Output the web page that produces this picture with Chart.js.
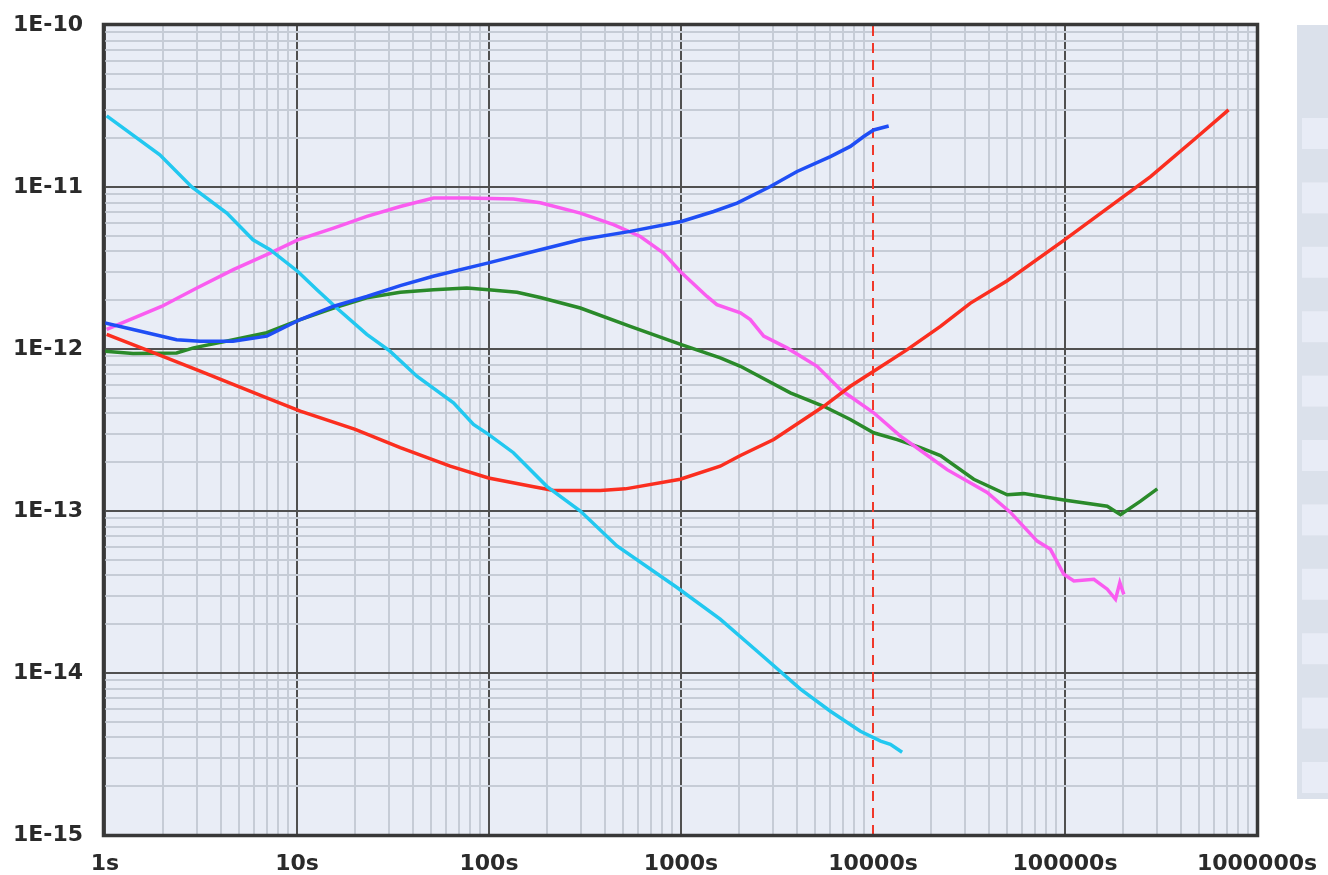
<!DOCTYPE html>
<html>
<head>
<meta charset="utf-8">
<title>Allan deviation</title>
<script src="https://cdn.jsdelivr.net/npm/chart.js@4.4.1/dist/chart.umd.min.js"></script>
<style>
  body { margin: 0; background: #ffffff; }
</style>
</head>
<body>
<canvas id="grafica" width="1328" height="875"></canvas>
<script>
// tick labels
var xTickLabels = ['1s', '10s', '100s', '1000s', '10000s', '100000s', '1000000s'];
var yTickLabels = ['1E-15', '1E-14', '1E-13', '1E-12', '1E-11', '1E-10'];
var xMin = 1, xMax = 1e6;
var yMin = 1e-15, yMax = 1e-10;
var markerTime = 10000;

// cyan series
var cyanTimes = [1.02, 1.93, 2.83, 4.31, 5.9, 7.24, 10.1, 12.7, 16.1, 23.1, 30.5, 42.1, 65.3, 83, 99.4, 134, 200, 299, 464, 953, 1600, 2590, 4190, 6000, 8600, 10960, 12320, 14180];
var cyanValues = [2.75e-11, 1.58e-11, 1.0e-11, 6.9e-12, 4.72e-12, 4.1e-12, 3.01e-12, 2.32e-12, 1.79e-12, 1.23e-12, 9.7e-13, 6.79e-13, 4.66e-13, 3.42e-13, 2.97e-13, 2.29e-13, 1.42e-13, 1.0e-13, 6.08e-14, 3.37e-14, 2.15e-14, 1.31e-14, 7.95e-15, 5.81e-15, 4.37e-15, 3.8e-15, 3.63e-15, 3.24e-15];

// red series
var redTimes = [1.02, 1.72, 3.13, 6.96, 10.4, 20.1, 34.5, 62.8, 99.4, 171, 217, 380, 513, 991, 1600, 2040, 3040, 5540, 7620, 10080, 15070, 22450, 32180, 50000, 99400, 279000, 467600, 711000];
var redValues = [1.23e-12, 9.68e-13, 7.29e-13, 4.99e-13, 4.13e-13, 3.19e-13, 2.46e-13, 1.89e-13, 1.60e-13, 1.41e-13, 1.34e-13, 1.34e-13, 1.37e-13, 1.57e-13, 1.89e-13, 2.20e-13, 2.76e-13, 4.43e-13, 5.89e-13, 7.29e-13, 9.91e-13, 1.38e-12, 1.92e-12, 2.64e-12, 4.72e-12, 1.16e-11, 1.95e-11, 2.99e-11];

// blue series
var blueTimes = [1, 1.40, 2.36, 3.13, 4.64, 6.96, 10.4, 15.4, 23.1, 34.5, 51.2, 99.4, 185, 299, 544, 1004, 1479, 1959, 2920, 4023, 5998, 7620, 8944, 10080, 12070];
var blueValues = [1.45e-12, 1.32e-12, 1.14e-12, 1.115e-12, 1.115e-12, 1.20e-12, 1.52e-12, 1.83e-12, 2.11e-12, 2.46e-12, 2.81e-12, 3.40e-12, 4.10e-12, 4.72e-12, 5.32e-12, 6.13e-12, 7.06e-12, 7.96e-12, 1.007e-11, 1.246e-11, 1.54e-11, 1.78e-11, 2.05e-11, 2.25e-11, 2.38e-11];

// green series
var greenTimes = [1, 1.40, 2.36, 2.89, 4.66, 6.96, 10.4, 15.5, 23.1, 34.5, 51.4, 76.7, 99.4, 140, 185, 299, 544, 1004, 1603, 2040, 3712, 5535, 7620, 10080, 13360, 17660, 22450, 33480, 50000, 60970, 98600, 166000, 194600, 247400, 302400];
var greenValues = [9.68e-13, 9.37e-13, 9.46e-13, 1.016e-12, 1.14e-12, 1.26e-12, 1.52e-12, 1.79e-12, 2.07e-12, 2.24e-12, 2.32e-12, 2.38e-12, 2.32e-12, 2.24e-12, 2.08e-12, 1.79e-12, 1.38e-12, 1.064e-12, 8.81e-13, 7.82e-13, 5.36e-13, 4.43e-13, 3.67e-13, 3.04e-13, 2.76e-13, 2.46e-13, 2.20e-13, 1.57e-13, 1.26e-13, 1.28e-13, 1.17e-13, 1.07e-13, 9.5e-14, 1.15e-13, 1.37e-13];

// magenta series
var magentaTimes = [1.02, 1.97, 3.01, 4.66, 7.24, 10.1, 15.5, 23.1, 34.5, 51.4, 76.7, 134, 185, 299, 445, 614, 811, 991, 1366, 1538, 2040, 2296, 2695, 3566, 5113, 6760, 10080, 13900, 18380, 24320, 39320, 52000, 71630, 84000, 98600, 111200, 141300, 166000, 183300, 193000, 202500];
var magentaValues = [1.32e-12, 1.83e-12, 2.38e-12, 3.09e-12, 3.91e-12, 4.72e-12, 5.58e-12, 6.58e-12, 7.58e-12, 8.54e-12, 8.54e-12, 8.42e-12, 8.0e-12, 6.90e-12, 5.85e-12, 4.95e-12, 3.91e-12, 3.01e-12, 2.11e-12, 1.88e-12, 1.67e-12, 1.52e-12, 1.20e-12, 1.016e-12, 7.82e-13, 5.62e-13, 4.04e-13, 2.90e-13, 2.29e-13, 1.80e-13, 1.30e-13, 9.8e-14, 6.52e-14, 5.80e-14, 4.07e-14, 3.70e-14, 3.79e-14, 3.29e-14, 2.85e-14, 3.61e-14, 3.06e-14];

function isPow10(v) {
  var l = Math.log10(v);
  return Math.abs(l - Math.round(l)) < 1e-6;
}
// keep only 1..9 x 10^n ticks (chart.js also makes 1.5 x 10^n)
function isWholeStep(v) {
  var e = Math.floor(Math.log10(v) + 1e-9);
  var m = v / Math.pow(10, e);
  return Math.abs(m - Math.round(m)) < 1e-6;
}
function pts(ts, vs) {
  return ts.map(function (t, i) { return { x: t, y: vs[i] }; });
}
function serie(ts, vs, color) {
  return { data: pts(ts, vs), borderColor: color, borderWidth: 3.5, pointRadius: 0, tension: 0, fill: false };
}

var fondo = {
  id: 'fondo',
  beforeDraw: function (chart) {
    var c = chart.ctx, a = chart.chartArea;
    c.save();
    c.fillStyle = '#e9edf6';
    c.fillRect(a.left, a.top, a.right - a.left, a.bottom - a.top);
    // empty legend strip on the right
    c.fillStyle = '#dbe1eb';
    c.fillRect(1297, 25, 31, 774);
    c.fillStyle = '#e8ecf6';
    for (var k = 0; k < 11; k++) {
      c.fillRect(1302, 118 + k * 64.4, 26, 31);
    }
    c.restore();
  },
  afterDraw: function (chart) {
    var c = chart.ctx, a = chart.chartArea;
    c.save();
    c.strokeStyle = '#383838';
    c.lineWidth = 3.5;
    c.strokeRect(a.left - 1.5, a.top - 0.5, a.right - a.left + 2, a.bottom - a.top + 1);
    c.restore();
  }
};

function gridColor(c) {
  return c.tick && isPow10(c.tick.value) ? '#505050' : '#c6ccd6';
}
// the dashed marker replaces the 10000s grid line
function xGridColor(c) {
  if (c.tick && Math.abs(c.tick.value - markerTime) < 1e-6) return 'rgba(0,0,0,0)';
  return gridColor(c);
}

var ctx = document.getElementById('grafica').getContext('2d');
var chart = new Chart(ctx, {
  type: 'line',
  data: {
    datasets: [
      serie(blueTimes, blueValues, '#1f4ef5'),
      serie(cyanTimes, cyanValues, '#22c8f0'),
      serie(redTimes, redValues, '#fb2e1f'),
      serie(magentaTimes, magentaValues, '#fa5cf0'),
      serie(greenTimes, greenValues, '#2a8a2a'),
      {
        data: [{ x: markerTime, y: yMin }, { x: markerTime, y: yMax }],
        borderColor: '#f0382a', borderWidth: 2, borderDash: [10, 7], pointRadius: 0
      }
    ]
  },
  options: {
    responsive: false,
    animation: false,
    devicePixelRatio: 1,
    layout: { padding: { top: 25, right: 71, left: 13, bottom: 0 } },
    plugins: { legend: { display: false }, tooltip: { enabled: false } },
    scales: {
      x: {
        type: 'logarithmic', min: xMin, max: xMax,
        afterBuildTicks: function (s) { s.ticks = s.ticks.filter(function (t) { return isWholeStep(t.value); }); },
        afterFit: function (s) { s.height = 40; },
        border: { display: false },
        grid: { color: xGridColor, lineWidth: 2, drawTicks: false },
        ticks: {
          autoSkip: false, maxRotation: 0, minRotation: 0, padding: 0,
          font: { family: '"DejaVu Sans", sans-serif', size: 22, weight: 'bold', lineHeight: 2.65 },
          color: '#2a2a2a',
          callback: function (v) { return isPow10(v) ? xTickLabels[Math.round(Math.log10(v))] : ''; }
        }
      },
      y: {
        type: 'logarithmic', min: yMin, max: yMax,
        afterBuildTicks: function (s) { s.ticks = s.ticks.filter(function (t) { return isWholeStep(t.value); }); },
        afterFit: function (s) { s.width = 92; },
        border: { display: false },
        grid: { color: gridColor, lineWidth: 2, drawTicks: false },
        ticks: {
          autoSkip: false, padding: 0, crossAlign: 'far',
          font: { family: '"DejaVu Sans", sans-serif', size: 22, weight: 'bold' },
          color: '#2a2a2a',
          callback: function (v) { return isPow10(v) ? yTickLabels[Math.round(Math.log10(v)) + 15] : ''; }
        }
      }
    }
  },
  plugins: [fondo]
});
</script>
</body>
</html>
